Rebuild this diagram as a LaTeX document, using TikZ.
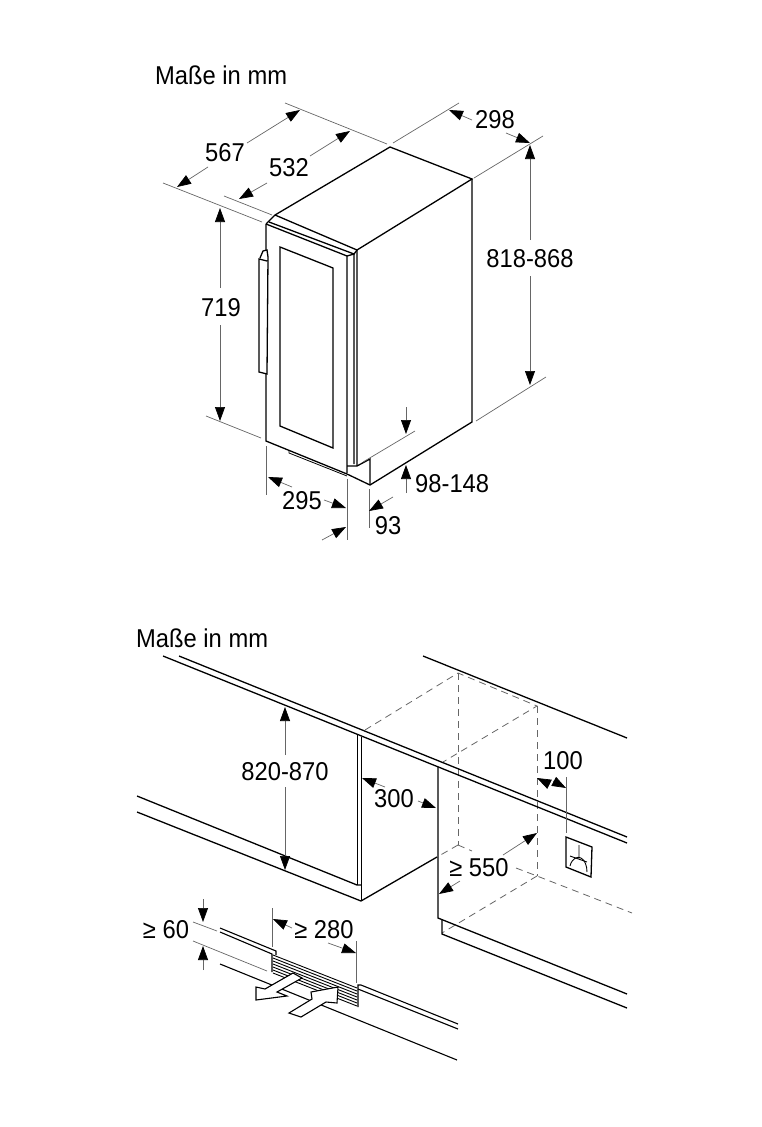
\documentclass[tikz,border=0pt]{standalone}
\usepackage{fontspec}
\setmainfont[FakeStretch=0.92]{Liberation Sans}
\usetikzlibrary{arrows.meta}
\tikzset{
    body/.style={line width=1.3pt,black,line join=miter},
    extline/.style={line width=0.7pt,black!60},
    dimline/.style={line width=0.7pt,black!60},
    hidden/.style={line width=0.8pt,black!60,dash pattern=on 7pt off 5pt},
    txt/.style={font=\fontsize{25.8}{30}\selectfont,inner sep=0pt,text=black},
    airflow/.style={line width=1.1pt,black,fill=white,line join=miter},
}
\begin{document}
\begin{tikzpicture}[x=1pt,y=-1pt,>={Triangle[length=14pt,width=10pt,color=black,fill=black]}]
    \useasboundingbox (0,0) rectangle (761,1127);

    \node[txt,anchor=west] (titleA) at (155,75) {Maße in mm};
    \node[txt,anchor=west] (titleB) at (136,638) {Maße in mm};

    % appliance
    \coordinate (topBack) at (390,147);
    \coordinate (topRight) at (472,179);
    \coordinate (topFront) at (357,250);
    \coordinate (topLeft) at (275,215);
    \coordinate (doorTL) at (266,224);
    \coordinate (doorBL) at (266,441);
    \coordinate (doorBR) at (347,474);
    \coordinate (baseCorner) at (370,485);
    \coordinate (sideBR) at (472,422);

    \draw[body] (topLeft) -- (topBack) -- (topRight) -- (topFront);
    \draw[body] (topRight) -- (sideBR) -- (baseCorner) -- (doorBR) -- (doorBL) -- (doorTL);
    \draw[body] (topLeft) -- (topFront) -- (357,466);
    \draw[body] (doorTL) -- (275,215);
    \draw[body] (269,222) -- (354,254) -- (357,250);
    \draw[body] (doorTL) -- (347,256) -- (347,473);
    \draw[body] (347,256) -- (354,254) -- (354,464);
    \draw[body] (347,466) -- (357,466) -- (370,459) -- (baseCorner);
    % glass
    \draw[body] (280,247) -- (333,268) -- (333,448) -- (280,426) -- cycle;
    % foot strip
    \draw[body,line width=0.8pt] (289,451) -- (289,453) -- (347,476);
    % handle
    \draw[body,fill=white] (260,258) -- (263,251) -- (267,250) -- (268,257) -- (267,374) -- (259,372) -- (259,259) -- (267,261);

    % upper dimensions
    \draw[extline] (285,103) -- (387,144);
    \draw[extline] (163,183) -- (262,222);
    \draw[extline] (224,196) -- (272,215);
    \draw[extline] (393,143) -- (459,103);
    \draw[extline] (474,178) -- (543,136);
    \draw[extline] (476,421) -- (546,377);
    \draw[extline] (206,416) -- (261,438);
    \draw[extline] (363,462) -- (415,431);
    \draw[extline] (266,446) -- (266,495);
    \draw[extline] (347,479) -- (347,540);
    \draw[extline] (369,489) -- (369,528);

    \node[txt] (dimA) at (225,153) {567};
    \draw[dimline,->] (208,167) -- (177,187);
    \draw[dimline,->] (247,143) -- (300,110);

    \node[txt] (dimB) at (289,168) {532};
    \draw[dimline,->] (267,183) -- (239,199);
    \draw[dimline,->] (310,156) -- (350,131);

    \node[txt] (dimC) at (495,120) {298};
    \draw[dimline,->] (472,120) -- (449,110);
    \draw[dimline,->] (506,133) -- (530,143);

    \node[txt] (dimD) at (530,259) {818-868};
    \draw[dimline,->] (530,240) -- (530,145);
    \draw[dimline,->] (530,276) -- (530,385);

    \node[txt] (dimE) at (221,308) {719};
    \draw[dimline,->] (220,288) -- (220,208);
    \draw[dimline,->] (220,325) -- (220,421);

    \node[txt,anchor=west] (dimF) at (415,484) {98-148};
    \draw[dimline,->] (406,407) -- (406,434);
    \draw[dimline,->] (406,493) -- (406,465);

    \node[txt] (dimG) at (302,501) {295};
    \draw[dimline,->] (292,487) -- (268,477);
    \draw[dimline,->] (324,500) -- (346,508);

    \node[txt] (dimH) at (388,526) {93};
    \draw[dimline,->] (393,497) -- (369,511);
    \draw[dimline,->] (322,540) -- (346,527);

    % niche, hidden edges
    \coordinate (nicheTB) at (458,673);
    \coordinate (nicheTF) at (537,706);
    \coordinate (nicheBB) at (458,845);
    \coordinate (nicheBF) at (537,876);
    \draw[hidden] (365,730) -- (nicheTB) -- (nicheTF) -- (443,762);
    \draw[hidden] (nicheTB) -- (nicheBB);
    \draw[hidden] (nicheTF) -- (nicheBF);
    \draw[hidden] (nicheBB) -- (437,857);
    \draw[hidden] (nicheBB) -- (472,851);
    \draw[hidden] (516,868) -- (nicheBF) -- (632,913);
    \draw[hidden] (nicheBF) -- (442,933);

    % worktop and units
    \draw[body] (179,656) -- (627,837);
    \draw[body] (163,656) -- (627,843);
    \draw[body] (423,656) -- (627,738);
    \draw[body] (137,796) -- (357,885) -- (361,885);
    \draw[body] (137,812) -- (361,901) -- (437,857);
    \draw[body,line width=1pt] (357,735) -- (357,885);
    \draw[body,line width=1pt] (361.5,737) -- (361.5,901);
    \draw[body] (438,767) -- (438,918) -- (627,994);
    \draw[body] (442,920) -- (442,934) -- (627,1008);

    % socket
    \draw[extline] (566,777) -- (566,833);
    \draw[body] (566,837) -- (592,847) -- (591,877) -- (566,867) -- cycle;
    \draw[body,line width=0.9pt] (579,845) -- (579,858) (570,856) -- (587,862);
    \draw[body,line width=0.9pt] (570,866) .. controls (572,858) and (578,856) .. (581,858) .. controls (585,860) and (587,866) .. (587,872);

    % lower dimensions
    \node[txt] (dimJ) at (285,772) {820-870};
    \draw[dimline,->] (285,755) -- (285,707);
    \draw[dimline,->] (285,787) -- (285,870);

    \node[txt] (dimK) at (394,799) {300};
    \draw[dimline,->] (385,787) -- (362,778);
    \draw[dimline,->] (418,801) -- (436,808);

    \node[txt] (dimL) at (563,761) {100};
    \draw[dimline,->] (549,784) -- (537,778);
    \draw[dimline,->] (553,781) -- (566,788);

    \node[txt] (dimM) at (479,868) {≥ 550};
    \draw[dimline,->] (503,855) -- (537,833);
    \draw[dimline,->] (460,881) -- (439,894);

    % plinth with air vent
    \draw[body,line width=1.1pt] (220,928) -- (276,951) -- (276,955);
    \draw[body,line width=1.1pt] (220,932) -- (272,954) -- (272,972);
    \draw[body,line width=1.1pt] (220,964) -- (457,1060);
    \draw[body,line width=1.1pt] (358,1007) -- (358,985) -- (361,985) -- (458,1024);
    \draw[body,line width=1.1pt] (358,989) -- (458,1029);
    % grille
    \foreach \i in {0,3,...,18} {
        \draw[black,line width=0.9pt] (273,{955+\i}) -- (357,{988+\i});
    }

    \draw[extline] (272,908) -- (272,947);
    \draw[extline] (356,941) -- (356,983);
    \draw[extline] (193,922) -- (217,931);
    \draw[extline] (193,941) -- (267,971);

    \node[txt] (dimN) at (166,930) {≥ 60};
    \draw[dimline,->] (203,899) -- (203,922);
    \draw[dimline,->] (203,970) -- (203,946);

    \node[txt] (dimO) at (324,930) {≥ 280};
    \draw[dimline,->] (292,928) -- (273,919);
    \draw[dimline,->] (328,943) -- (356,953);

    % air arrows
    \draw[airflow] (293,973) -- (302,978) -- (277,992) -- (287,996) -- (256,1000) -- (256,987) -- (265,989) -- cycle;
    \draw[airflow] (289,1013) -- (312,999) -- (311,992) -- (338,987) -- (337,1003) -- (326,1002) -- (301,1017) -- cycle;
\end{tikzpicture}
\end{document}
